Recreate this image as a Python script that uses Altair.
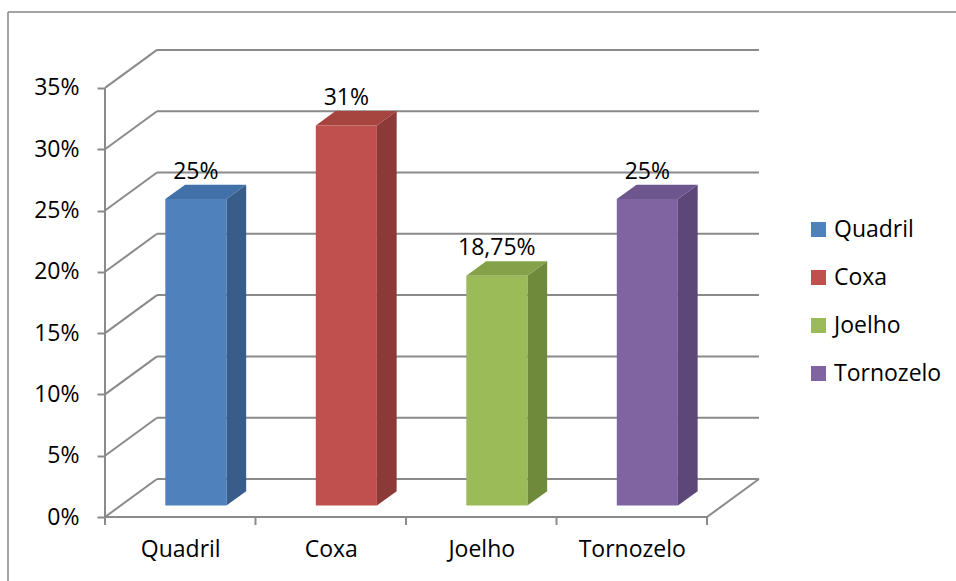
import json
import altair as alt
import pandas as pd

# ---- data -----------------------------------------------------------------
categories = ["Quadril", "Coxa", "Joelho", "Tornozelo"]
values = [25, 31, 18.75, 25]
front_colors = ["#4F81BD", "#C0504D", "#9BBB59", "#8064A2"]
side_colors = ["#385D8A", "#8C3A37", "#6E8A3A", "#5C4778"]
top_colors = ["#4270A8", "#A6443F", "#85A24A", "#6D558E"]
y_ticks = [0, 5, 10, 15, 20, 25, 30, 35]

# ---- oblique projection (in data units) -----------------------------------
DX, DY = 0.3455, 3.1      # offset of the back wall: category units / percent
F0, F1 = 0.30, 0.68       # depth of the bar front and back faces (0 = front, 1 = back)
HW = 0.203                # half width of a bar, category units
N = len(categories)

W, H = 851, 472
X_MAX = W / 150.5
Y_MAX = 38.5

GRID = "#8a8a8a"
FONT = "Open Sans"
FS = 23

xs = alt.Scale(domain=[0, X_MAX], nice=False, zero=False)
ys = alt.Scale(domain=[0, Y_MAX], nice=False, zero=False)

label_expr = json.dumps(categories) + "[floor(datum.value)]"
x_axis = alt.Axis(
    values=[i + 0.5 for i in range(N)], labelExpr=label_expr, title=None,
    ticks=False, domain=False, grid=False, labelPadding=39,
    labelBaseline="alphabetic", labelFont=FONT, labelFontSize=FS,
    labelColor="black", labelOverlap=False, labelFlush=False)
y_axis = alt.Axis(
    values=y_ticks, labelExpr="datum.value + '%'", title=None,
    domain=False, grid=False, tickColor=GRID, tickWidth=2, tickSize=8,
    labelPadding=18, labelFont=FONT, labelFontSize=FS, labelColor="black")


def X(field):
    return alt.X(field, scale=xs, axis=x_axis)


def Y(field):
    return alt.Y(field, scale=ys, axis=y_axis)


# ---- walls, floor and axis lines ------------------------------------------
seg = []
for t in y_ticks:
    seg.append(dict(x=DX, y=t + DY, x2=N + DX, y2=t + DY))      # back wall grid
    seg.append(dict(x=0, y=t, x2=DX, y2=t + DY))                # side wall grid
seg.append(dict(x=0, y=0, x2=N, y2=0))                          # floor front edge
seg.append(dict(x=N, y=0, x2=N + DX, y2=DY))                    # floor right edge
seg.append(dict(x=0, y=0, x2=0, y2=y_ticks[-1]))                # value axis line
for i in range(N + 1):
    seg.append(dict(x=i, y=0, x2=i, y2=-0.65))                  # category ticks
seg_df = pd.DataFrame(seg)

walls = alt.Chart(seg_df).mark_rule(color=GRID, strokeWidth=2).encode(
    x=X("x:Q"), x2="x2:Q", y=Y("y:Q"), y2="y2:Q",
)

# ---- outer frame ------------------------------------------------------------
frame_v = alt.Chart(pd.DataFrame({"k": [0]})).mark_rule(
    color="#868686", strokeWidth=1.5).encode(
    x=alt.value(-97), y=alt.value(-33), y2=alt.value(H + 120))
frame_h = alt.Chart(pd.DataFrame({"k": [0]})).mark_rule(
    color="#868686", strokeWidth=1.5).encode(
    x=alt.value(-97), x2=alt.value(W + 20), y=alt.value(-33))

# ---- bars -------------------------------------------------------------------
front_rows, side_rows, top_rows, label_rows = [], [], [], []
for i, (cat, v) in enumerate(zip(categories, values)):
    c = i + 0.5
    xl0, xr0 = c - HW + F0 * DX, c + HW + F0 * DX
    xl1, xr1 = c - HW + F1 * DX, c + HW + F1 * DX
    yb0, yb1 = F0 * DY, F1 * DY
    yt0, yt1 = v + F0 * DY, v + F1 * DY
    front_rows.append(dict(cat=cat, x=xl0, x2=xr0, y=yb0, y2=yt0))
    side_rows += [
        dict(cat=cat, col=side_colors[i], x=xr0, y=yb0, y2=yt0),
        dict(cat=cat, col=side_colors[i], x=xr1, y=yb1, y2=yt1),
    ]
    top_rows += [
        dict(cat=cat, col=top_colors[i], x=xl0, y=yt0, y2=yt0),
        dict(cat=cat, col=top_colors[i], x=xl1, y=yt0, y2=yt1),
        dict(cat=cat, col=top_colors[i], x=xr0, y=yt0, y2=yt1),
        dict(cat=cat, col=top_colors[i], x=xr1, y=yt1, y2=yt1),
    ]
    txt = f"{v:g}".replace(".", ",") + "%"
    label_rows.append(dict(cat=cat, x=(xl0 + xr0) / 2, y=yt1, txt=txt))

side = alt.Chart(pd.DataFrame(side_rows)).mark_area(opacity=1).encode(
    x=X("x:Q"), y=Y("y:Q"), y2="y2:Q",
    color=alt.Color("col:N", scale=None), detail="cat:N",
)
top = alt.Chart(pd.DataFrame(top_rows)).mark_area(opacity=1).encode(
    x=X("x:Q"), y=Y("y:Q"), y2="y2:Q",
    color=alt.Color("col:N", scale=None), detail="cat:N",
)
front = alt.Chart(pd.DataFrame(front_rows)).mark_rect().encode(
    x=X("x:Q"), x2="x2:Q", y=Y("y:Q"), y2="y2:Q",
    color=alt.Color("cat:N", scale=alt.Scale(domain=categories, range=front_colors),
                    legend=alt.Legend(
                        title=None, orient="none", legendX=702, legendY=173,
                        symbolType="square", symbolSize=225, symbolStrokeWidth=0,
                        labelFont=FONT, labelFontSize=FS, labelColor="black",
                        labelOffset=4, rowPadding=24, padding=0)),
)
labels = alt.Chart(pd.DataFrame(label_rows)).mark_text(
    font=FONT, fontSize=FS, color="black", baseline="alphabetic", dy=-6).encode(
    x=X("x:Q"), y=Y("y:Q"), text="txt:N",
)

chart = alt.layer(frame_v, frame_h, walls, side, top, front, labels).properties(
    width=W, height=H,
    padding={"left": 105, "top": 45, "right": 0, "bottom": 64},
    autosize="none",
).configure(font=FONT).configure_view(stroke=None)

chart.save("out.html", embed_options={"renderer": "svg", "actions": False})
